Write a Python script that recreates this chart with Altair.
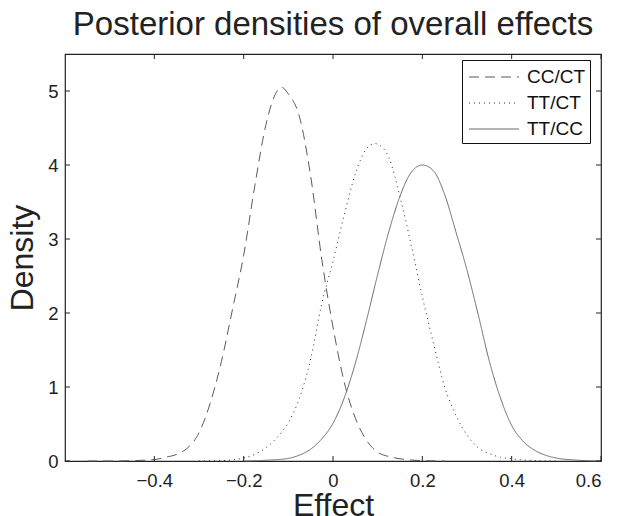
import altair as alt
import pandas as pd

# ---- data ----
series_names = ["CC/CT", "TT/CT", "TT/CC"]

cc_ct_x = [-0.55, -0.50, -0.45, -0.40, -0.375, -0.35, -0.325, -0.30, -0.275, -0.25, -0.225, -0.20,
           -0.175, -0.15, -0.125, -0.115, -0.10, -0.075, -0.05, -0.025, 0.0, 0.025, 0.05, 0.075,
           0.10, 0.125, 0.15, 0.20, 0.25]
cc_ct_y = [0.0, 0.0, 0.005, 0.02, 0.05, 0.09, 0.18, 0.38, 0.78, 1.34, 2.05, 2.78,
           3.72, 4.55, 5.0, 5.05, 4.96, 4.65, 3.85, 2.72, 1.81, 1.07, 0.58, 0.28,
           0.12, 0.06, 0.03, 0.005, 0.0]

tt_ct_x = [-0.30, -0.25, -0.225, -0.20, -0.175, -0.15, -0.125, -0.10, -0.075, -0.05, -0.025, 0.0,
           0.025, 0.05, 0.075, 0.094, 0.10, 0.125, 0.15, 0.175, 0.20, 0.225, 0.25, 0.275, 0.30,
           0.325, 0.35, 0.375, 0.40, 0.45, 0.50]
tt_ct_y = [0.0, 0.005, 0.015, 0.04, 0.09, 0.18, 0.32, 0.52, 0.85, 1.38, 2.13, 2.70,
           3.32, 3.88, 4.22, 4.29, 4.28, 4.10, 3.57, 2.92, 2.22, 1.59, 1.0, 0.62, 0.35,
           0.18, 0.10, 0.05, 0.03, 0.005, 0.0]

tt_cc_x = [-0.20, -0.15, -0.10, -0.075, -0.05, -0.025, 0.0, 0.025, 0.05, 0.075, 0.10, 0.125,
           0.15, 0.175, 0.20, 0.225, 0.25, 0.275, 0.30, 0.325, 0.35, 0.375, 0.40, 0.425, 0.45,
           0.475, 0.50, 0.55, 0.60]
tt_cc_y = [0.0, 0.01, 0.035, 0.08, 0.16, 0.30, 0.51, 0.85, 1.32, 1.90, 2.52, 3.10,
           3.58, 3.90, 4.0, 3.92, 3.60, 3.10, 2.58, 1.98, 1.35, 0.85, 0.48, 0.27, 0.15,
           0.08, 0.04, 0.01, 0.0]

x_ticks = [-0.4, -0.2, 0, 0.2, 0.4, 0.6]
y_ticks = [0, 1, 2, 3, 4, 5]
x_domain = [-0.6, 0.6]
y_domain = [0, 5.5]

line_colors = ["#5a5a5a", "#2a2a2a", "#6a6a6a"]
line_dashes = [[10, 6], [1, 4], [1, 0]]

# ---- build table ----
rows = []
for name, xs, ys in [("CC/CT", cc_ct_x, cc_ct_y), ("TT/CT", tt_ct_x, tt_ct_y), ("TT/CC", tt_cc_x, tt_cc_y)]:
    for xv, yv in zip(xs, ys):
        rows.append({"series": name, "effect": xv, "density": yv})
df = pd.DataFrame(rows)

xt = pd.DataFrame({"effect": x_ticks})
yt = pd.DataFrame({"density": y_ticks})

W, H = 536, 407
FONT = "Liberation Sans"

xscale = alt.Scale(domain=x_domain, nice=False, zero=False)
yscale = alt.Scale(domain=y_domain, nice=False, zero=False)
xaxis = alt.Axis(values=x_ticks, format=".1~f", title="Effect")
yaxis = alt.Axis(values=y_ticks, format="d", title="Density")

legend_kw = dict(
    title=None, orient="none", legendX=397, legendY=6,
    symbolType="M-2,0H2", symbolSize=625, symbolStrokeWidth=1,
    labelFont=FONT, labelFontSize=19, labelColor="#111",
    strokeColor="#111", fillColor="white", padding=4, rowPadding=3,
    labelOffset=20, cornerRadius=0, symbolOffset=15,
)

lines = alt.Chart(df).mark_line(strokeWidth=1, interpolate="monotone").encode(
    x=alt.X("effect:Q", scale=xscale, axis=xaxis),
    y=alt.Y("density:Q", scale=yscale, axis=yaxis),
    color=alt.Color("series:N", scale=alt.Scale(domain=series_names, range=line_colors),
                    sort=series_names, legend=alt.Legend(**legend_kw)),
    strokeDash=alt.StrokeDash("series:N", scale=alt.Scale(domain=series_names, range=line_dashes),
                              sort=series_names, legend=alt.Legend(**legend_kw)),
    order=alt.Order("effect:Q"),
)

tick_len = 5
bottom_ticks = alt.Chart(xt).mark_rule(color="#222", strokeWidth=1).encode(
    x=alt.X("effect:Q", scale=xscale, axis=xaxis),
    y=alt.value(H), y2=alt.value(H - tick_len))
top_ticks = alt.Chart(xt).mark_rule(color="#222", strokeWidth=1).encode(
    x=alt.X("effect:Q", scale=xscale, axis=xaxis),
    y=alt.value(0), y2=alt.value(tick_len))
left_ticks = alt.Chart(yt).mark_rule(color="#222", strokeWidth=1).encode(
    y=alt.Y("density:Q", scale=yscale, axis=yaxis),
    x=alt.value(0), x2=alt.value(tick_len))
right_ticks = alt.Chart(yt).mark_rule(color="#222", strokeWidth=1).encode(
    y=alt.Y("density:Q", scale=yscale, axis=yaxis),
    x=alt.value(W), x2=alt.value(W - tick_len))

chart = alt.layer(lines, bottom_ticks, top_ticks, left_ticks, right_ticks).properties(
    width=W, height=H,
    title=alt.TitleParams("Posterior densities of overall effects", font=FONT, fontSize=33,
                          fontWeight="normal", color="#222", anchor="middle", offset=12),
    autosize=alt.AutoSizeParams(type="none"),
    padding={"left": 57, "top": 46, "right": 8, "bottom": 55},
).configure(background="white").configure_view(stroke="#222", strokeWidth=1.2).configure_axis(
    labelFont=FONT, labelFontSize=18.5, labelColor="#222",
    titleFont=FONT, titleFontSize=32, titleFontWeight="normal", titleColor="#222",
    ticks=False, domain=False, grid=False,
).configure_axisX(labelPadding=10, titlePadding=1).configure_axisY(
    labelPadding=7, titlePadding=8
)

chart.save("out.html", embed_options={"renderer": "svg", "actions": False})
